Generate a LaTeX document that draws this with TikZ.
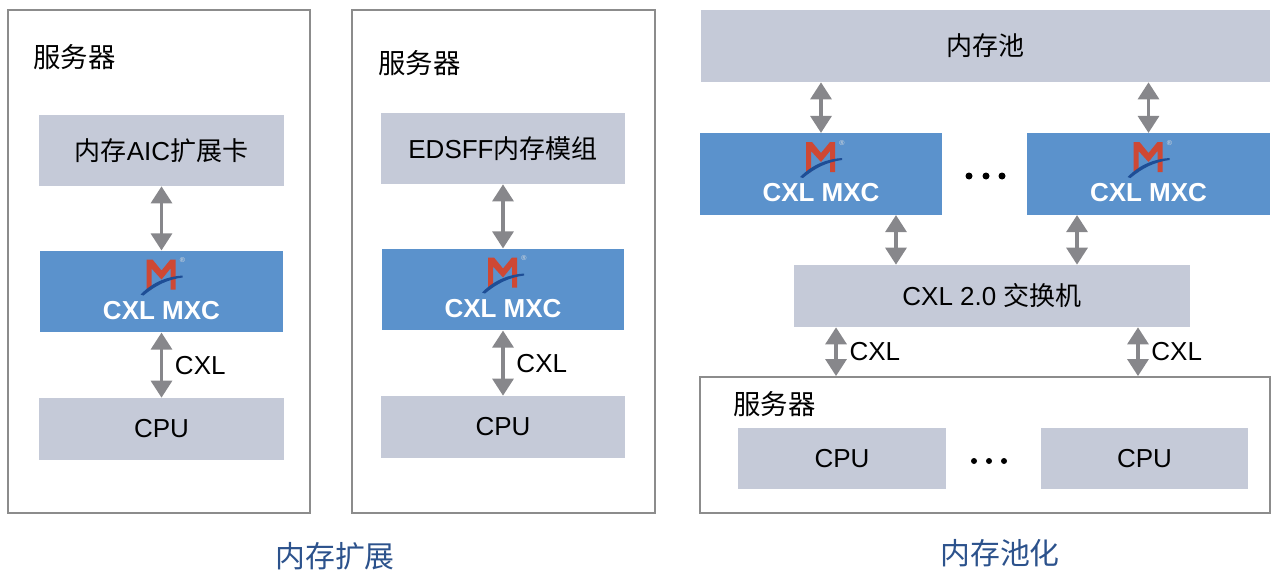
\documentclass[tikz,border=0pt]{standalone}
\usepackage{fontspec}
\setmainfont{Liberation Sans}
\newfontfamily\cjk{Noto Sans CJK SC}
\usetikzlibrary{arrows.meta}
\definecolor{boxgray}{RGB}{197,202,216}
\definecolor{mxcblue}{RGB}{91,146,204}
\definecolor{framegray}{RGB}{140,140,140}
\definecolor{arrowgray}{RGB}{135,135,139}
\definecolor{logored}{RGB}{206,72,52}
\definecolor{logoblue}{RGB}{30,78,150}
\definecolor{captionblue}{RGB}{44,82,140}
\newcommand\boxfont{\fontsize{14.8pt}{17pt}\selectfont}
\newcommand\mxcfont{\fontsize{14.8pt}{17pt}\selectfont\bfseries}
\newcommand\labfont{\fontsize{15.6pt}{18pt}\selectfont}
\newcommand\capfont{\fontsize{17pt}{20pt}\selectfont}
\tikzset{
  panel/.style={draw=framegray, line width=1.1pt, inner sep=0pt},
  membox/.style={fill=boxgray, inner sep=0pt, font=\boxfont},
  mxcbox/.style={fill=mxcblue, inner sep=0pt, minimum width=4.86cm, minimum height=1.63cm},
  mxctext/.style={text=white, font=\mxcfont, inner sep=0pt},
  srvlabel/.style={anchor=west, inner sep=0pt, font=\labfont},
  cxllabel/.style={right, xshift=0.12cm, font=\boxfont},
  caption/.style={text=captionblue, font=\capfont},
  biarrow/.style={draw=arrowgray, line width=0.065cm,
    {Triangle[width=0.42cm,length=0.34cm]}-{Triangle[width=0.42cm,length=0.34cm]}},
  dot/.style={circle, fill=black, inner sep=0pt, minimum size=0.14cm},
  mxcunit/.pic={
    \node[mxcbox] (-box) {};
    \node[mxctext] (-name) at (0,19) {CXL MXC};
    \begin{scope}[shift={(0,-17)}]
      \fill[logored] (-15,15) -- (-15,-15) -- (-9,-15) -- (0,-4) -- (9,-15) -- (14,-15)
        -- (14,15) -- (9,15) -- (9,-6) -- (0,5) -- (-10,-6) -- (-10,15) -- cycle;
      \fill[logoblue] (-21,20) .. controls (-8,7) and (6,2) .. (21,1) -- (21,3)
        .. controls (6,5) and (-6,11) .. (-18,21) -- cycle;
      \node[inner sep=0pt, text=white!75!gray, font=\fontsize{4pt}{4pt}\selectfont] (-reg) at (21,-14) {®};
    \end{scope}
  }
}
\begin{document}
\begin{tikzpicture}[x=0.02cm, y=-0.02cm]
\useasboundingbox (0,0) rectangle (1274,572);

% memory expansion: AIC card
\node[panel, minimum width=6.04cm, minimum height=10.06cm] (srvA) at (159,261.5) {};
\node[srvlabel] (labA) at (33,57) {\cjk 服务器};
\node[membox, minimum width=4.9cm, minimum height=1.42cm] (aicA) at (161.5,150.5) {{\cjk 内存}AIC{\cjk 扩展卡}};
\pic (mxcA) at (161.5,291.5) {mxcunit};
\node[membox, minimum width=4.9cm, minimum height=1.24cm] (cpuA) at (161.5,429) {CPU};
\draw[biarrow] (aicA) -- (mxcA-box);
\draw[biarrow] (mxcA-box) -- (cpuA) node[cxllabel, midway] (cxlA) {CXL};

% memory expansion: EDSFF module
\node[panel, minimum width=6.06cm, minimum height=10.06cm] (srvB) at (503.5,261.5) {};
\node[srvlabel] (labB) at (378,63) {\cjk 服务器};
\node[membox, minimum width=4.88cm, minimum height=1.42cm] (edsB) at (503,148.5) {EDSFF{\cjk 内存模组}};
\pic (mxcB) at (503,289.5) {mxcunit};
\node[membox, minimum width=4.88cm, minimum height=1.24cm] (cpuB) at (503,427) {CPU};
\draw[biarrow] (edsB) -- (mxcB-box);
\draw[biarrow] (mxcB-box) -- (cpuB) node[cxllabel, midway] (cxlB) {CXL};

% memory pooling
\node[membox, minimum width=11.38cm, minimum height=1.44cm] (pool) at (985.5,46) {\cjk 内存池};
\pic (mxcC) at (821,174) {mxcunit};
\pic (mxcD) at (1148.5,174) {mxcunit};
\foreach \i/\x in {1/969,2/986,3/1002}
  \node[dot] (dotT\i) at (\x,176) {};
\node[membox, minimum width=7.92cm, minimum height=1.24cm] (sw) at (992,296) {CXL 2.0 {\cjk 交换机}};
\node[panel, minimum width=11.4cm, minimum height=2.72cm] (srvC) at (985,445) {};
\node[srvlabel] (labC) at (733,404) {\cjk 服务器};
\node[membox, minimum width=4.16cm, minimum height=1.22cm] (cpuC) at (842,458.5) {CPU};
\node[membox, minimum width=4.14cm, minimum height=1.22cm] (cpuD) at (1144.5,458.5) {CPU};
\foreach \i/\x in {1/974,2/989,3/1004}
  \node[dot, minimum size=0.12cm] (dotB\i) at (\x,461) {};

\draw[biarrow] (mxcC-box.north |- pool.south) -- (mxcC-box.north);
\draw[biarrow] (mxcD-box.north |- pool.south) -- (mxcD-box.north);
\coordinate (upL) at ([xshift=1.5cm]mxcC-box.south);
\coordinate (upR) at ([xshift=-1.43cm]mxcD-box.south);
\draw[biarrow] (upL) -- (upL |- sw.north);
\draw[biarrow] (upR) -- (upR |- sw.north);
\coordinate (dnL) at ([xshift=-3.12cm]sw.south);
\coordinate (dnR) at ([xshift=2.92cm]sw.south);
\draw[biarrow] (dnL) -- (dnL |- srvC.north) node[cxllabel, midway] (cxlC) {CXL};
\draw[biarrow] (dnR) -- (dnR |- srvC.north) node[cxllabel, midway] (cxlD) {CXL};

% captions
\node[caption] (capA) at (335,556) {\cjk 内存扩展};
\node[caption] (capB) at (1000,553) {\cjk 内存池化};
\end{tikzpicture}
\end{document}
